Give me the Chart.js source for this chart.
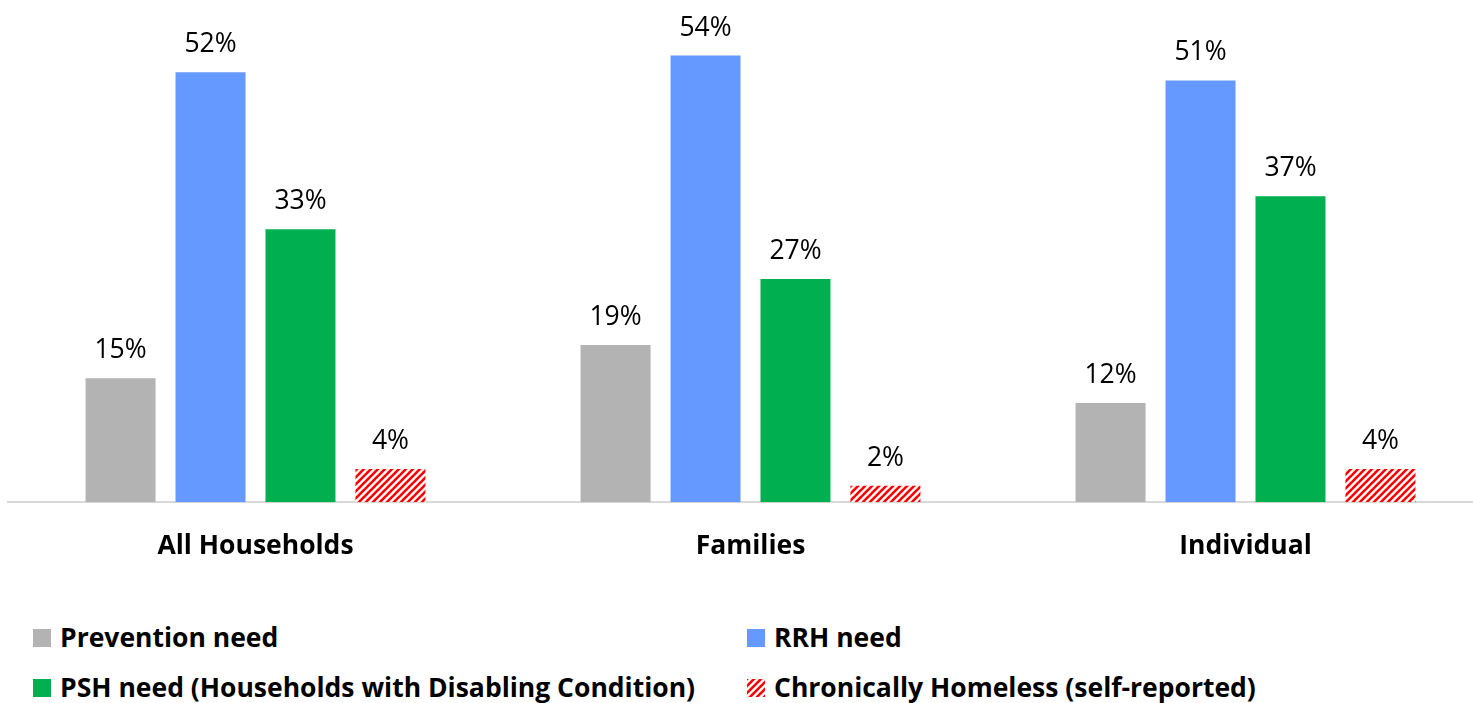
<!DOCTYPE html>
<html>
<head>
<meta charset="utf-8">
<script src="https://cdn.jsdelivr.net/npm/chart.js@4"></script>
<style>
  body { margin: 0; background: #fff; overflow: hidden; width: 1473px; height: 703px; position: relative; font-family: "Open Sans", sans-serif; }
  #wrap { position: absolute; left: 0; top: 0; width: 1493px; height: 590px; }
  .leg { position: absolute; font-weight: bold; font-size: 26.5px; color: #000; white-space: nowrap; line-height: 30px; }
  .box { position: absolute; left: 0; top: 7px; width: 18px; height: 18px; }
  .leg span.t { padding-left: 27px; }
</style>
</head>
<body>
<div id="wrap"><canvas id="chartNeeds"></canvas></div>
<div id="legend"></div>
<script>
const categories = ["All Households", "Families", "Individual"];
const prevention = [15, 19, 12];
const rrh = [52, 54, 51];
const psh = [33, 27, 37];
const chronic = [4, 2, 4];
const seriesNames = ["Prevention need", "RRH need", "PSH need (Households with Disabling Condition)", "Chronically Homeless (self-reported)"];

function hatch() {
    const c = document.createElement('canvas');
    c.width = 7; c.height = 7;
    const g = c.getContext('2d');
    g.fillStyle = '#fff';
    g.fillRect(0, 0, 7, 7);
    g.strokeStyle = '#ff0000';
    g.lineWidth = 2.6;
    for (let k = -7; k <= 14; k += 7) {
        g.beginPath();
        g.moveTo(k - 1, 8);
        g.lineTo(k + 8, -1);
        g.stroke();
    }
    return c;
}
const hatchCanvas = hatch();
const hatchFill = document.createElement('canvas').getContext('2d').createPattern(hatchCanvas, 'repeat');

const colors = ['#b3b3b3', '#6699ff', '#00b050', hatchFill];

const valueLabels = {
    id: 'valueLabels',
    afterDatasetsDraw(chart) {
        const ctx = chart.ctx;
        ctx.save();
        ctx.font = '26.5px "Open Sans", sans-serif';
        ctx.fillStyle = '#000';
        ctx.textAlign = 'center';
        ctx.textBaseline = 'alphabetic';
        chart.data.datasets.forEach((ds, i) => {
            chart.getDatasetMeta(i).data.forEach((bar, j) => {
                ctx.fillText(ds.data[j] + '%', bar.x, bar.y - 20);
            });
        });
        ctx.restore();
    }
};

const chartNeeds = new Chart(document.getElementById('chartNeeds'), {
    type: 'bar',
    data: {
        labels: categories,
        datasets: [prevention, rrh, psh, chronic].map((d, i) => ({
            label: seriesNames[i],
            data: d,
            backgroundColor: colors[i],
            borderWidth: 0,
            categoryPercentage: 0.727,
            barPercentage: 0.778,
        }))
    },
    options: {
        responsive: true,
        maintainAspectRatio: false,
        animation: false,
        layout: { padding: { left: 8, right: 0, top: 6, bottom: 0 } },
        plugins: {
            legend: { display: false },
            tooltip: { enabled: false },
        },
        scales: {
            x: {
                grid: { display: false, drawTicks: false },
                border: { color: '#d9d9d9', width: 2 },
                ticks: {
                    color: '#000',
                    padding: 28,
                    font: { family: 'Open Sans', size: 26.5, weight: 'bold' }
                }
            },
            y: {
                display: false,
                min: 0,
                max: 60,
            }
        }
    },
    plugins: [valueLabels]
});

// legend in two columns
const legendPos = [[33, 622], [747, 622], [33, 672], [747, 672]];
const legend = document.getElementById('legend');
seriesNames.forEach((name, i) => {
    const item = document.createElement('div');
    item.className = 'leg';
    item.style.left = legendPos[i][0] + 'px';
    item.style.top = legendPos[i][1] + 'px';
    const box = document.createElement('div');
    box.className = 'box';
    if (i === 3) {
        box.style.backgroundImage = 'url(' + hatchCanvas.toDataURL() + ')';
    } else {
        box.style.background = colors[i];
    }
    item.appendChild(box);
    const t = document.createElement('span');
    t.className = 't';
    t.textContent = name;
    item.appendChild(t);
    legend.appendChild(item);
});
</script>
</body>
</html>
